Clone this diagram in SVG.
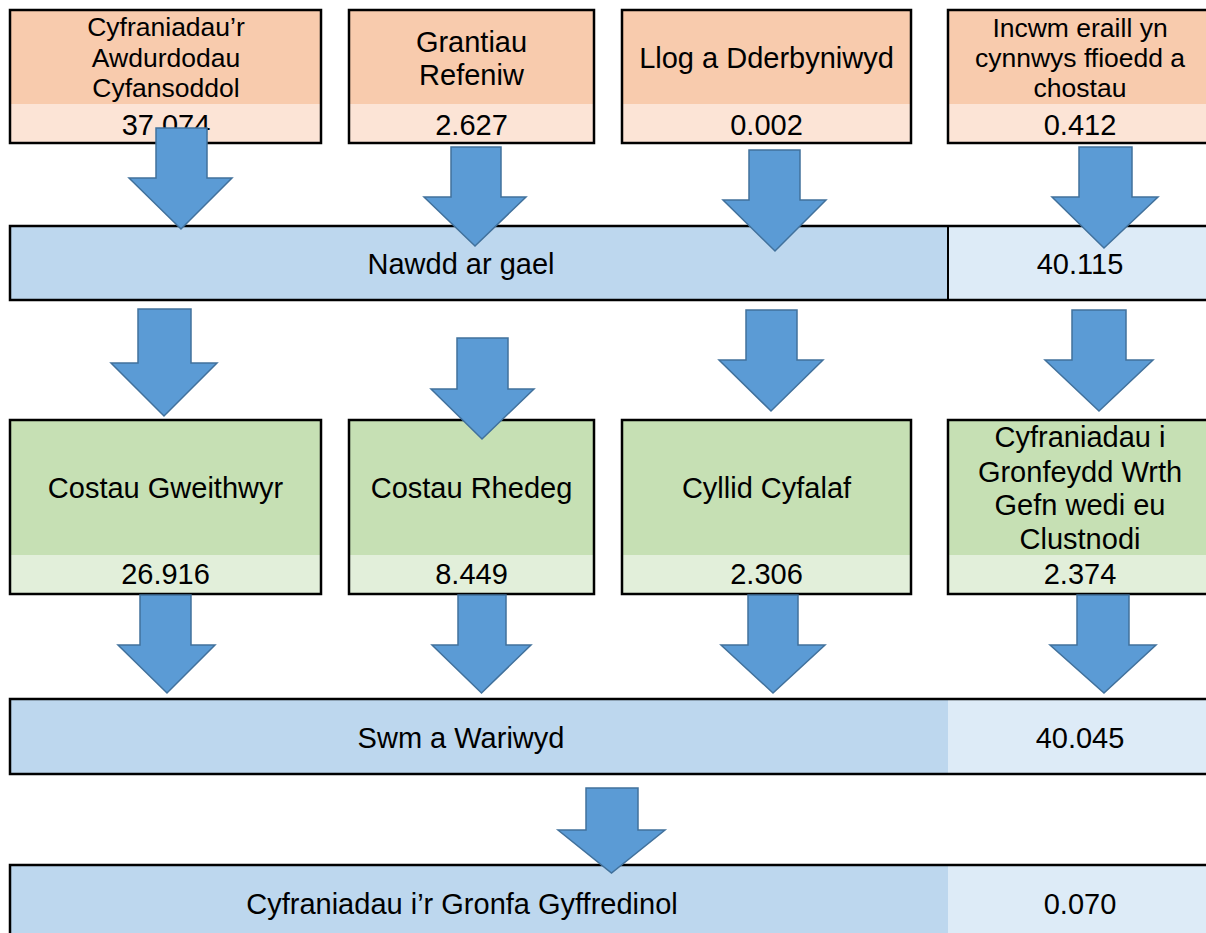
<svg xmlns="http://www.w3.org/2000/svg" width="1206" height="933" viewBox="0 0 1206 933">
<style>
text{font-family:"Liberation Sans",Arial,sans-serif;fill:#000;text-anchor:middle}
.t29{font-size:29px}
.t26{font-size:26.5px}
.o1{fill:#F8CBAD}.o2{fill:#FCE4D6}
.g1{fill:#C6E0B4}.g2{fill:#E2EFDA}
.b1{fill:#BDD7EE}.b2{fill:#DDEBF7}
.bd{fill:none;stroke:#000;stroke-width:2.5}
.arr{fill:#5B9BD5;stroke:#41719C;stroke-width:1.5;stroke-linejoin:miter}
</style>
<rect width="1206" height="933" fill="#fff"/>

<g id="src-cyfraniadau">
<rect class="o1" x="10" y="10" width="311" height="94"/>
<rect class="o2" x="10" y="104" width="311" height="39"/>
<rect class="bd" x="10" y="10" width="311" height="133"/>
<text class="t26" x="166" y="36">Cyfraniadau’r</text>
<text class="t26" x="166" y="66.5">Awdurdodau</text>
<text class="t26" x="166" y="97">Cyfansoddol</text>
<text class="t29" x="166" y="134.5">37.074</text>
</g>
<g id="src-grantiau">
<rect class="o1" x="349" y="10" width="245" height="94"/>
<rect class="o2" x="349" y="104" width="245" height="39"/>
<rect class="bd" x="349" y="10" width="245" height="133"/>
<text class="t29" x="471.5" y="52">Grantiau</text>
<text class="t29" x="471.5" y="85">Refeniw</text>
<text class="t29" x="471.5" y="134.5">2.627</text>
</g>
<g id="src-llog">
<rect class="o1" x="622" y="10" width="289" height="94"/>
<rect class="o2" x="622" y="104" width="289" height="39"/>
<rect class="bd" x="622" y="10" width="289" height="133"/>
<text class="t29" x="766.5" y="68">Llog a Dderbyniwyd</text>
<text class="t29" x="766.5" y="134.5">0.002</text>
</g>
<g id="src-incwm">
<rect class="o1" x="948" y="10" width="264" height="94"/>
<rect class="o2" x="948" y="104" width="264" height="39"/>
<rect class="bd" x="948" y="10" width="264" height="133"/>
<text class="t26" x="1080" y="36.5">Incwm eraill yn</text>
<text class="t26" x="1080" y="66.5">cynnwys ffioedd a</text>
<text class="t26" x="1080" y="96.5">chostau</text>
<text class="t29" x="1080" y="134.5">0.412</text>
</g>

<g id="nawdd">
<rect class="b1" x="10" y="226" width="938" height="74"/>
<rect class="b2" x="948" y="226" width="264" height="74"/>
<rect class="bd" x="10" y="226" width="1202" height="74"/>
<line x1="948" y1="226" x2="948" y2="300" stroke="#000" stroke-width="2"/>
<text class="t29" x="461" y="273.5">Nawdd ar gael</text>
<text class="t29" x="1080" y="273.5">40.115</text>
</g>

<g id="cost-gweithwyr">
<rect class="g1" x="10" y="420" width="311" height="135"/>
<rect class="g2" x="10" y="555" width="311" height="39"/>
<rect class="bd" x="10" y="420" width="311" height="174"/>
<text class="t29" x="165.5" y="498">Costau Gweithwyr</text>
<text class="t29" x="165.5" y="584">26.916</text>
</g>
<g id="cost-rhedeg">
<rect class="g1" x="349" y="420" width="245" height="135"/>
<rect class="g2" x="349" y="555" width="245" height="39"/>
<rect class="bd" x="349" y="420" width="245" height="174"/>
<text class="t29" x="471.5" y="498">Costau Rhedeg</text>
<text class="t29" x="471.5" y="584">8.449</text>
</g>
<g id="cyllid-cyfalaf">
<rect class="g1" x="622" y="420" width="289" height="135"/>
<rect class="g2" x="622" y="555" width="289" height="39"/>
<rect class="bd" x="622" y="420" width="289" height="174"/>
<text class="t29" x="766.5" y="498">Cyllid Cyfalaf</text>
<text class="t29" x="766.5" y="584">2.306</text>
</g>
<g id="cronfeydd">
<rect class="g1" x="948" y="420" width="264" height="135"/>
<rect class="g2" x="948" y="555" width="264" height="39"/>
<rect class="bd" x="948" y="420" width="264" height="174"/>
<text class="t29" x="1080" y="447">Cyfraniadau i</text>
<text class="t29" x="1080" y="481.5">Gronfeydd Wrth</text>
<text class="t29" x="1080" y="515">Gefn wedi eu</text>
<text class="t29" x="1080" y="548.5">Clustnodi</text>
<text class="t29" x="1080" y="584">2.374</text>
</g>

<g id="swm">
<rect class="b1" x="10" y="699" width="938" height="75"/>
<rect class="b2" x="948" y="699" width="264" height="75"/>
<rect class="bd" x="10" y="699" width="1202" height="75"/>
<text class="t29" x="461" y="748">Swm a Wariwyd</text>
<text class="t29" x="1080" y="748">40.045</text>
</g>

<g id="gronfa">
<rect class="b1" x="10" y="865" width="938" height="80"/>
<rect class="b2" x="948" y="865" width="264" height="80"/>
<rect class="bd" x="10" y="865" width="1202" height="80"/>
<text class="t29" x="462" y="914">Cyfraniadau i’r Gronfa Gyffredinol</text>
<text class="t29" x="1080" y="914">0.070</text>
</g>

<g id="connectors">
<polygon class="arr" points="156,128 207,128 207,178 232,178 181,229 129,178 156,178"/>
<polygon class="arr" points="451,147 501,147 501,197 526,197 475,246 424,197 451,197"/>
<polygon class="arr" points="749,150 800,150 800,200 826,200 775,251 723,200 749,200"/>
<polygon class="arr" points="1079,147 1132,147 1132,197 1158,197 1104,248 1052,197 1079,197"/>

<polygon class="arr" points="138,309 191,309 191,363 217,363 164,416 111,363 138,363"/>
<polygon class="arr" points="457,338 508,338 508,389 534,389 482,439 431,389 457,389"/>
<polygon class="arr" points="746,310 797,310 797,360 823,360 771,411 719,360 746,360"/>
<polygon class="arr" points="1072,310 1126,310 1126,360 1153,360 1099,411 1045,360 1072,360"/>

<polygon class="arr" points="140,595 191,595 191,645 215,645 167,693 118,645 140,645"/>
<polygon class="arr" points="458,595 506,595 506,645 531,645 481.5,693 432,645 458,645"/>
<polygon class="arr" points="748,595 798,595 798,645 825,645 773,693 721,645 748,645"/>
<polygon class="arr" points="1077,595 1129,595 1129,645 1156,645 1104,693 1050,645 1077,645"/>

<polygon class="arr" points="586,788 638,788 638,830 665,830 611.5,873 558,830 586,830"/>
</g>
</svg>
